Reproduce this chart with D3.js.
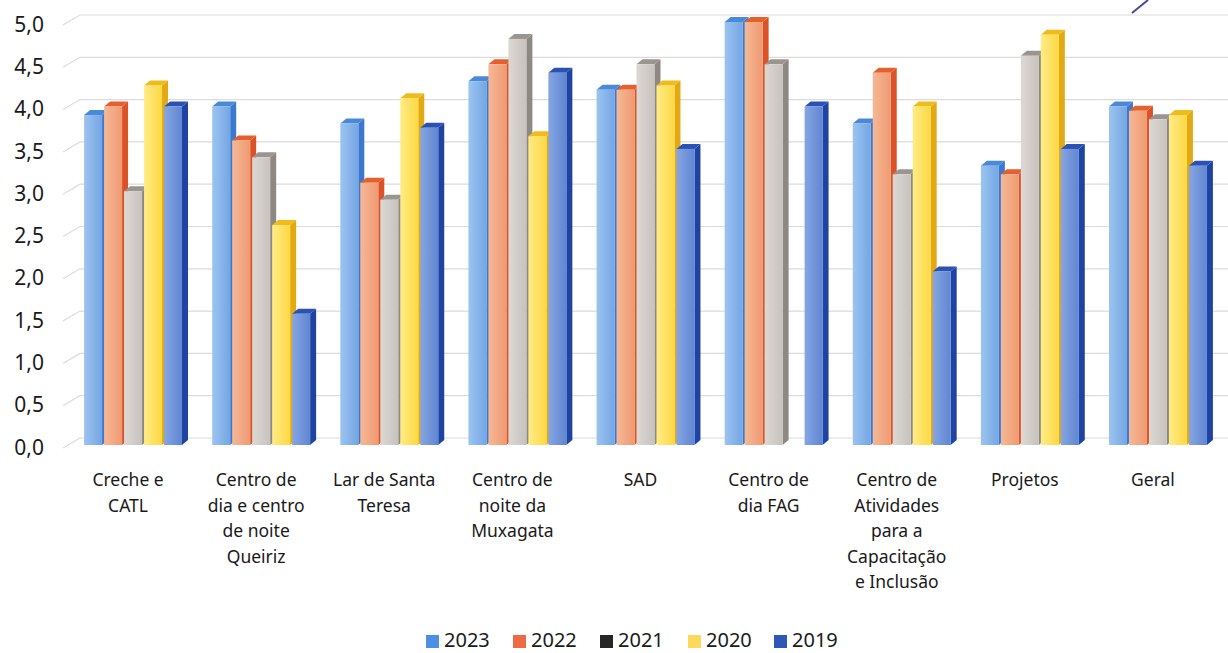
<!DOCTYPE html>
<html>
<head>
<meta charset="utf-8">
<script src="https://cdn.jsdelivr.net/npm/d3@7"></script>
<style>
  html, body { margin: 0; padding: 0; background: #ffffff; }
  svg { display: block; }
  text { font-family: "Noto Sans", "Open Sans", sans-serif; fill: #1a1a1a; }
</style>
</head>
<body>
<svg id="chart" width="1228" height="653"></svg>
<script>
// Categories (multi-line labels) and yearly scores
const categories = [
  ["Creche e", "CATL"],
  ["Centro de", "dia e centro", "de noite", "Queiriz"],
  ["Lar de Santa", "Teresa"],
  ["Centro de", "noite da", "Muxagata"],
  ["SAD"],
  ["Centro de", "dia FAG"],
  ["Centro de", "Atividades", "para a", "Capacitação", "e Inclusão"],
  ["Projetos"],
  ["Geral"]
];
const years = ["2023", "2022", "2021", "2020", "2019"];

const values2023 = [3.9, 4.0, 3.8, 4.3, 4.2, 5.0, 3.8, 3.3, 4.0];
const values2022 = [4.0, 3.6, 3.1, 4.5, 4.2, 5.0, 4.4, 3.2, 3.95];
const values2021 = [3.0, 3.4, 2.9, 4.8, 4.5, 4.5, 3.2, 4.6, 3.85];
const values2020 = [4.25, 2.6, 4.1, 3.65, 4.25, 0, 4.0, 4.85, 3.9];
const values2019 = [4.0, 1.55, 3.75, 4.4, 3.5, 4.0, 2.05, 3.5, 3.3];

const yTicks = [0, 0.5, 1, 1.5, 2, 2.5, 3, 3.5, 4, 4.5, 5];

const seriesValues = [values2023, values2022, values2021, values2020, values2019];

// Front, side and top tones for each year
const palette = [
  { light: "#9cc4f0", front: "#74a6e4", side: "#3b78cf", top: "#4a88d8" },
  { light: "#f6b896", front: "#ef9a72", side: "#dc5226", top: "#e4602e" },
  { light: "#dcd8d4", front: "#c7c2be", side: "#8d8883", top: "#9a9590" },
  { light: "#ffec86", front: "#fdd844", side: "#e3a911", top: "#efbc1c" },
  { light: "#86a6e2", front: "#5f86d3", side: "#1f43a3", top: "#2a52b4" }
];
const legendSwatch = ["#4d8fe0", "#ec6a44", "#262626", "#fdd85a", "#2e57b8"];

const svg = d3.select("#chart");
const W = 1228;

const x0 = d3.scaleBand()
  .domain(d3.range(categories.length))
  .range([70, 1223])
  .paddingInner(0.22)
  .paddingOuter(0.11);
const x1 = d3.scaleBand()
  .domain(d3.range(years.length))
  .range([0, x0.bandwidth()]);
const y = d3.scaleLinear().domain([0, 5]).range([445, 22]);

const dx = 6, dy = 5;      // bar depth projection
const wallDx = 17, wallDy = 7; // back wall offset for gridlines

// Gradients for bar fronts
const defs = svg.append("defs");
palette.forEach((p, i) => {
  const g = defs.append("linearGradient")
    .attr("id", "grad" + i)
    .attr("x1", "0%").attr("x2", "100%").attr("y1", "0%").attr("y2", "0%");
  g.append("stop").attr("offset", "0%").attr("stop-color", p.light);
  g.append("stop").attr("offset", "100%").attr("stop-color", p.front);
});

// Gridlines: side-wall slant + back wall line
const grid = svg.append("g");
yTicks.forEach(t => {
  const yb = y(t) - wallDy;
  grid.append("path")
    .attr("d", `M${63},${yb + 10} L${63 + wallDx},${yb} L${W},${yb}`)
    .attr("fill", "none")
    .attr("stroke", "#dcdcdc")
    .attr("stroke-width", 1.2);
});

// Y tick labels
svg.append("g").selectAll("text")
  .data(yTicks)
  .join("text")
  .attr("x", 44)
  .attr("y", d => y(d) + 4)
  .attr("text-anchor", "end")
  .attr("dominant-baseline", "middle")
  .attr("font-size", 21)
  .text(d => d3.format(".1f")(d).replace(".", ","));

// Bars drawn left to right so each covers its neighbour's side face
const bars = svg.append("g");
categories.forEach((c, ci) => {
  years.forEach((yr, si) => {
    const v = seriesValues[si][ci];
    if (!v) return;
    const p = palette[si];
    const xl = x0(ci) + x1(si);
    const w = x1.bandwidth() - 2;
    const top = y(v), base = y(0);
    const g = bars.append("g");
    // side face
    g.append("path")
      .attr("d", `M${xl + w},${top} L${xl + w + dx},${top - dy} L${xl + w + dx},${base - dy} L${xl + w},${base} Z`)
      .attr("fill", p.side);
    // top face
    g.append("path")
      .attr("d", `M${xl},${top} L${xl + dx},${top - dy} L${xl + w + dx},${top - dy} L${xl + w},${top} Z`)
      .attr("fill", p.top);
    // front face
    g.append("rect")
      .attr("x", xl).attr("y", top)
      .attr("width", w).attr("height", base - top)
      .attr("fill", `url(#grad${si})`);
  });
});

// Category labels
const labels = svg.append("g");
categories.forEach((lines, ci) => {
  const cx = x0(ci) + x0.bandwidth() / 2 - 6;
  const t = labels.append("text")
    .attr("text-anchor", "middle")
    .attr("font-size", 17.5)
    .attr("x", cx)
    .attr("y", 486);
  lines.forEach((ln, li) => {
    t.append("tspan")
      .attr("x", cx)
      .attr("dy", li === 0 ? 0 : 25.5)
      .text(ln);
  });
});

// Legend
const legendX = [426, 513, 600, 688, 774];
const legend = svg.append("g");
years.forEach((yr, i) => {
  legend.append("rect")
    .attr("x", legendX[i]).attr("y", 635)
    .attr("width", 13).attr("height", 13)
    .attr("fill", legendSwatch[i]);
  legend.append("text")
    .attr("x", legendX[i] + 18).attr("y", 647)
    .attr("font-size", 20)
    .text(yr);
});

// Pen stroke in the upper right corner
svg.append("line")
  .attr("x1", 1132).attr("y1", 13).attr("x2", 1148).attr("y2", 0)
  .attr("stroke", "#4b4a9a").attr("stroke-width", 2);
</script>
</body>
</html>
